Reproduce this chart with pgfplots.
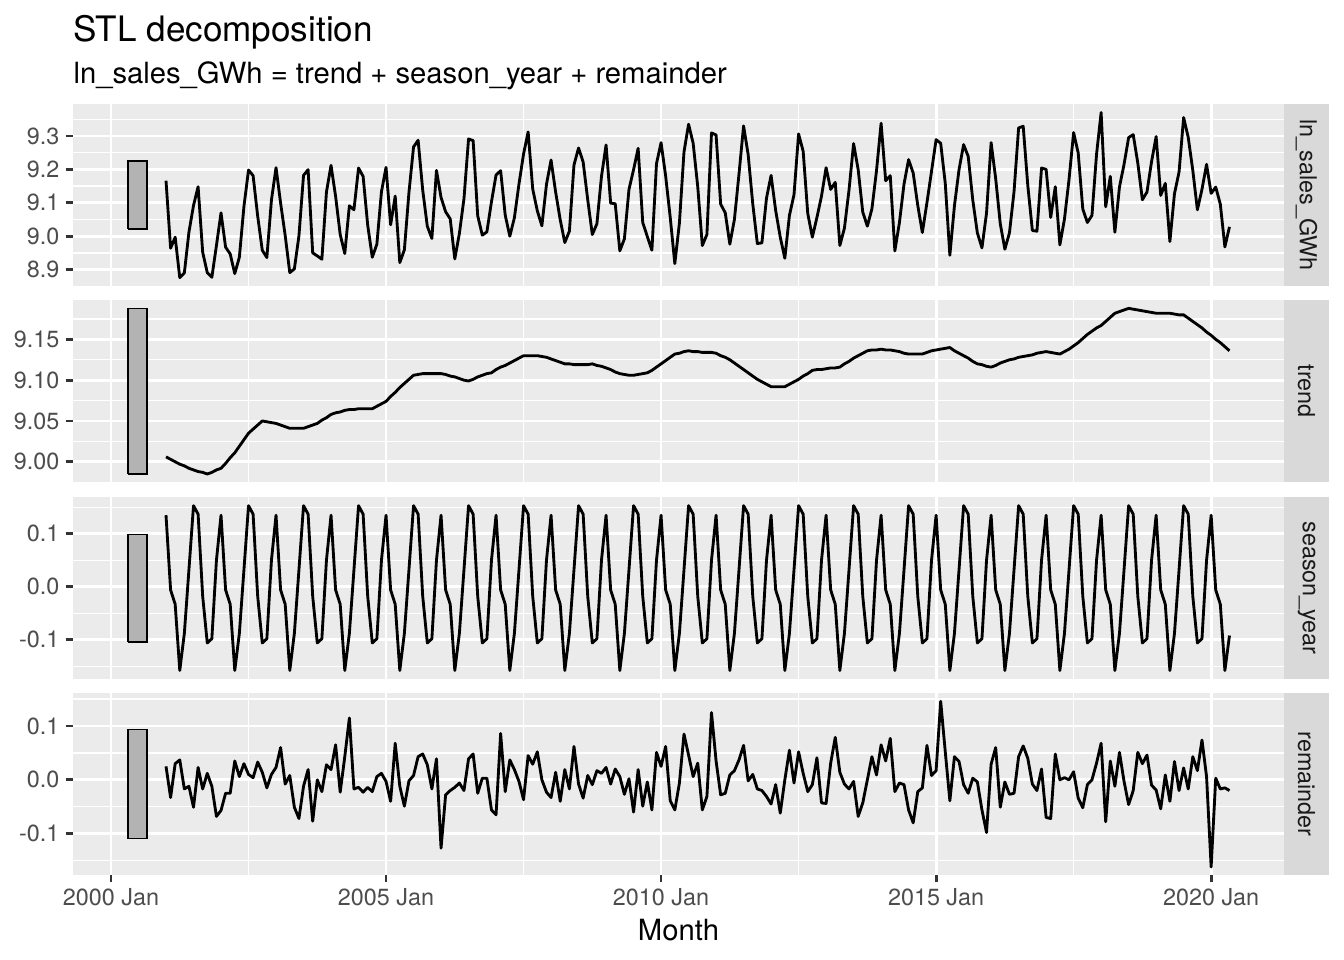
\documentclass[border=0pt]{standalone}
\usepackage{fontspec}
\setmainfont{TeX Gyre Heros}
\usepackage{pgfplots}
\usepackage{pgfplotstable}
\pgfplotsset{compat=1.18}
\definecolor{panelbg}{HTML}{EBEBEB}
\definecolor{stripbg}{HTML}{D9D9D9}
\definecolor{gray30}{HTML}{4D4D4D}
\definecolor{gray20}{HTML}{333333}
\definecolor{gray10}{HTML}{1A1A1A}
\definecolor{gray70}{HTML}{B3B3B3}

% m = months since 2000 Jan
\pgfplotstableread{
m y trend season rem
12 9.166 9.006 0.135 0.025
13 8.964 9.003 -0.006 -0.033
14 8.997 9.000 -0.033 0.030
15 8.876 8.997 -0.158 0.037
16 8.890 8.995 -0.088 -0.017
17 9.012 8.992 0.032 -0.012
18 9.092 8.990 0.153 -0.051
19 9.148 8.988 0.137 0.023
20 8.952 8.987 -0.018 -0.017
21 8.891 8.985 -0.106 0.012
22 8.877 8.987 -0.098 -0.012
23 8.972 8.990 0.050 -0.068
24 9.070 8.992 0.135 -0.057
25 8.967 8.998 -0.006 -0.025
26 8.947 9.005 -0.033 -0.025
27 8.888 9.011 -0.158 0.035
28 8.937 9.019 -0.088 0.006
29 9.089 9.027 0.032 0.030
30 9.198 9.035 0.153 0.010
31 9.181 9.040 0.137 0.004
32 9.060 9.045 -0.018 0.033
33 8.958 9.050 -0.106 0.014
34 8.936 9.049 -0.098 -0.015
35 9.108 9.048 0.050 0.010
36 9.205 9.047 0.135 0.023
37 9.099 9.045 -0.006 0.060
38 9.002 9.043 -0.033 -0.008
39 8.891 9.041 -0.158 0.008
40 8.902 9.041 -0.088 -0.051
41 9.001 9.041 0.032 -0.072
42 9.182 9.041 0.153 -0.012
43 9.199 9.043 0.137 0.019
44 8.950 9.045 -0.018 -0.077
45 8.941 9.047 -0.106 0.000
46 8.931 9.051 -0.098 -0.022
47 9.132 9.054 0.050 0.028
48 9.212 9.058 0.135 0.019
49 9.119 9.060 -0.006 0.065
50 9.005 9.061 -0.033 -0.023
51 8.948 9.063 -0.158 0.043
52 9.091 9.064 -0.088 0.115
53 9.079 9.064 0.032 -0.017
54 9.204 9.065 0.153 -0.014
55 9.179 9.065 0.137 -0.023
56 9.033 9.065 -0.018 -0.014
57 8.937 9.065 -0.106 -0.022
58 8.976 9.068 -0.098 0.006
59 9.133 9.071 0.050 0.012
60 9.206 9.074 0.135 -0.003
61 9.034 9.080 -0.006 -0.040
62 9.120 9.085 -0.033 0.068
63 8.921 9.091 -0.158 -0.012
64 8.959 9.096 -0.088 -0.049
65 9.131 9.101 0.032 -0.002
66 9.267 9.106 0.153 0.008
67 9.287 9.107 0.137 0.043
68 9.138 9.108 -0.018 0.048
69 9.030 9.108 -0.106 0.028
70 8.993 9.108 -0.098 -0.017
71 9.197 9.108 0.050 0.039
72 9.116 9.108 0.135 -0.127
73 9.073 9.107 -0.006 -0.028
74 9.052 9.105 -0.033 -0.020
75 8.932 9.104 -0.158 -0.014
76 9.008 9.102 -0.088 -0.006
77 9.112 9.100 0.032 -0.020
78 9.291 9.099 0.153 0.039
79 9.286 9.101 0.137 0.048
80 9.061 9.104 -0.018 -0.025
81 9.003 9.106 -0.106 0.003
82 9.013 9.108 -0.098 0.003
83 9.103 9.109 0.050 -0.056
84 9.183 9.113 0.135 -0.065
85 9.196 9.116 -0.006 0.086
86 9.063 9.118 -0.033 -0.022
87 9.000 9.121 -0.158 0.037
88 9.055 9.124 -0.088 0.019
89 9.156 9.127 0.032 -0.003
90 9.246 9.130 0.153 -0.037
91 9.312 9.130 0.137 0.045
92 9.141 9.130 -0.018 0.029
93 9.076 9.130 -0.106 0.052
94 9.031 9.129 -0.098 0.000
95 9.155 9.128 0.050 -0.023
96 9.228 9.126 0.135 -0.033
97 9.132 9.124 -0.006 0.014
98 9.049 9.122 -0.033 -0.040
99 8.981 9.120 -0.158 0.019
100 9.015 9.120 -0.088 -0.017
101 9.213 9.119 0.032 0.062
102 9.264 9.119 0.153 -0.008
103 9.222 9.119 0.137 -0.034
104 9.109 9.119 -0.018 0.008
105 9.005 9.120 -0.106 -0.009
106 9.037 9.118 -0.098 0.017
107 9.179 9.117 0.050 0.012
108 9.273 9.115 0.135 0.023
109 9.099 9.113 -0.006 -0.008
110 9.097 9.110 -0.033 0.020
111 8.956 9.108 -0.158 0.006
112 8.992 9.107 -0.088 -0.027
113 9.140 9.106 0.032 0.002
114 9.199 9.106 0.153 -0.060
115 9.263 9.107 0.137 0.019
116 9.041 9.108 -0.018 -0.049
117 8.999 9.109 -0.106 -0.004
118 8.958 9.112 -0.098 -0.056
119 9.217 9.116 0.050 0.051
120 9.280 9.120 0.135 0.025
121 9.180 9.124 -0.006 0.062
122 9.056 9.128 -0.033 -0.039
123 8.918 9.132 -0.158 -0.056
124 9.039 9.133 -0.088 -0.006
125 9.252 9.135 0.032 0.085
126 9.335 9.136 0.153 0.046
127 9.278 9.135 0.137 0.006
128 9.148 9.135 -0.018 0.031
129 8.972 9.134 -0.106 -0.056
130 9.005 9.134 -0.098 -0.031
131 9.309 9.134 0.050 0.125
132 9.303 9.133 0.135 0.035
133 9.096 9.130 -0.006 -0.028
134 9.070 9.128 -0.033 -0.025
135 8.976 9.125 -0.158 0.009
136 9.050 9.121 -0.088 0.017
137 9.186 9.117 0.032 0.037
138 9.330 9.113 0.153 0.064
139 9.244 9.109 0.137 -0.002
140 9.097 9.105 -0.018 0.010
141 8.978 9.101 -0.106 -0.017
142 8.980 9.098 -0.098 -0.020
143 9.114 9.095 0.050 -0.031
144 9.182 9.092 0.135 -0.045
145 9.077 9.092 -0.006 -0.009
146 8.997 9.092 -0.033 -0.062
147 8.934 9.092 -0.158 0.000
148 9.062 9.095 -0.088 0.055
149 9.124 9.098 0.032 -0.006
150 9.306 9.101 0.153 0.052
151 9.254 9.105 0.137 0.012
152 9.068 9.108 -0.018 -0.022
153 8.997 9.112 -0.106 -0.009
154 9.056 9.113 -0.098 0.041
155 9.120 9.113 0.050 -0.043
156 9.205 9.114 0.135 -0.044
157 9.140 9.115 -0.006 0.031
158 9.161 9.115 -0.033 0.079
159 8.972 9.116 -0.158 0.014
160 9.024 9.120 -0.088 -0.008
161 9.138 9.123 0.032 -0.017
162 9.277 9.127 0.153 -0.003
163 9.199 9.130 0.137 -0.068
164 9.072 9.133 -0.018 -0.043
165 9.030 9.136 -0.106 0.000
166 9.082 9.137 -0.098 0.043
167 9.196 9.137 0.050 0.009
168 9.338 9.138 0.135 0.065
169 9.166 9.137 -0.006 0.035
170 9.181 9.137 -0.033 0.077
171 8.956 9.136 -0.158 -0.022
172 9.041 9.135 -0.088 -0.006
173 9.156 9.133 0.032 -0.009
174 9.229 9.132 0.153 -0.056
175 9.189 9.132 0.137 -0.080
176 9.092 9.132 -0.018 -0.022
177 9.011 9.132 -0.106 -0.015
178 9.100 9.134 -0.098 0.064
179 9.194 9.136 0.050 0.008
180 9.289 9.137 0.135 0.017
181 9.278 9.138 -0.006 0.146
182 9.158 9.139 -0.033 0.052
183 8.943 9.140 -0.158 -0.039
184 9.091 9.136 -0.088 0.043
185 9.199 9.133 0.032 0.034
186 9.274 9.130 0.153 -0.009
187 9.239 9.127 0.137 -0.025
188 9.108 9.123 -0.018 0.003
189 9.010 9.120 -0.106 -0.004
190 8.965 9.119 -0.098 -0.056
191 9.069 9.117 0.050 -0.098
192 9.280 9.116 0.135 0.029
193 9.172 9.118 -0.006 0.060
194 9.037 9.121 -0.033 -0.051
195 8.961 9.123 -0.158 -0.004
196 9.010 9.125 -0.088 -0.027
197 9.133 9.126 0.032 -0.025
198 9.324 9.128 0.153 0.043
199 9.329 9.129 0.137 0.063
200 9.152 9.130 -0.018 0.040
201 9.017 9.131 -0.106 -0.008
202 9.015 9.133 -0.098 -0.020
203 9.204 9.134 0.050 0.020
204 9.200 9.135 0.135 -0.070
205 9.056 9.134 -0.006 -0.072
206 9.148 9.133 -0.033 0.048
207 8.974 9.132 -0.158 0.000
208 9.051 9.135 -0.088 0.004
209 9.170 9.138 0.032 0.000
210 9.310 9.142 0.153 0.015
211 9.249 9.146 0.137 -0.034
212 9.081 9.151 -0.018 -0.052
213 9.041 9.156 -0.106 -0.009
214 9.062 9.160 -0.098 0.000
215 9.245 9.164 0.050 0.031
216 9.370 9.167 0.135 0.068
217 9.088 9.172 -0.006 -0.078
218 9.179 9.177 -0.033 0.035
219 9.012 9.182 -0.158 -0.012
220 9.147 9.184 -0.088 0.051
221 9.215 9.186 0.032 -0.003
222 9.295 9.188 0.153 -0.046
223 9.304 9.187 0.137 -0.020
224 9.219 9.186 -0.018 0.051
225 9.109 9.185 -0.106 0.030
226 9.132 9.184 -0.098 0.046
227 9.223 9.183 0.050 -0.010
228 9.298 9.182 0.135 -0.019
229 9.122 9.182 -0.006 -0.054
230 9.158 9.182 -0.033 0.009
231 8.984 9.182 -0.158 -0.040
232 9.127 9.181 -0.088 0.034
233 9.192 9.180 0.032 -0.020
234 9.355 9.180 0.153 0.022
235 9.296 9.176 0.137 -0.017
236 9.197 9.172 -0.018 0.043
237 9.079 9.168 -0.106 0.017
238 9.140 9.164 -0.098 0.074
239 9.215 9.159 0.050 0.006
240 9.128 9.155 0.135 -0.162
241 9.147 9.150 -0.006 0.003
242 9.096 9.146 -0.033 -0.017
243 8.968 9.141 -0.158 -0.015
244 9.028 9.136 -0.092 -0.020
}\stl

\pgfplotsset{
  stlpanel/.style={
    scale only axis, width=455.83pt, height=68.43pt,
    anchor=south west,
    xmin=-8.29, xmax=255.9,
    axis background/.style={fill=panelbg},
    axis line style={draw=none},
    xmajorgrids, ymajorgrids, xminorgrids, yminorgrids,
    major grid style={white, line width=1.07pt},
    minor grid style={white, line width=0.53pt},
    xtick={0,60,120,180,240},
    minor xtick={30,90,150,210},
    tick align=outside,
    major tick length=2.75pt,
    minor tick length=0pt,
    xtick pos=left, ytick pos=left,
    tick style={gray20, line width=1.07pt},
    yticklabel style={font=\fontsize{8.8}{10}\selectfont, text=gray30, inner sep=0pt, xshift=-2.2pt},
    xticklabel style={font=\fontsize{8.8}{10}\selectfont, text=gray30, inner sep=0pt, yshift=-2.2pt},
    clip=false,
  },
  noxticks/.style={xticklabels={}, xtick style={draw=none}},
  dataline/.style={black, line width=1.07pt, line join=round},
  scalebar/.style={draw=black, fill=gray70, line width=0.55pt},
}
\tikzset{striplabel/.style={rotate=-90, font=\fontsize{8.8}{10}\selectfont, text=gray10}}

\begin{document}
\begin{tikzpicture}
\useasboundingbox (0,0) rectangle (505.89pt,361.35pt);

% Panel 1
\begin{axis}[stlpanel, noxticks, at={(27.48pt,253.70pt)},
  ymin=8.851, ymax=9.395,
  ytick={8.9,9.0,9.1,9.2,9.3}, yticklabels={8.9,9.0,9.1,9.2,9.3},
  minor ytick={8.85,8.95,9.05,9.15,9.25,9.35}]
  \addplot[scalebar] coordinates {(3.7,9.0215) (7.9,9.0215) (7.9,9.2245) (3.7,9.2245) (3.7,9.0215)};
  \addplot[dataline] table[x=m, y=y] {\stl};
  \fill[stripbg] (rel axis cs:1,0) rectangle (rel axis cs:1.03716,1);
  \node[striplabel] at (rel axis cs:1.01858,0.5) {ln\_sales\_GWh};
\end{axis}

% Panel 2
\begin{axis}[stlpanel, noxticks, at={(27.48pt,179.92pt)},
  ymin=8.9752, ymax=9.198,
  ytick={9.00,9.05,9.10,9.15}, yticklabels={9.00,9.05,9.10,9.15},
  minor ytick={8.975,9.025,9.075,9.125,9.175}]
  \addplot[scalebar] coordinates {(3.7,8.985) (7.9,8.985) (7.9,9.188) (3.7,9.188) (3.7,8.985)};
  \addplot[dataline] table[x=m, y=trend] {\stl};
  \fill[stripbg] (rel axis cs:1,0) rectangle (rel axis cs:1.03716,1);
  \node[striplabel] at (rel axis cs:1.01858,0.5) {trend};
\end{axis}

% Panel 3
\begin{axis}[stlpanel, noxticks, at={(27.48pt,105.77pt)},
  ymin=-0.174, ymax=0.169,
  ytick={-0.1,0,0.1}, yticklabels={-0.1,0.0,0.1},
  minor ytick={-0.15,-0.05,0.05,0.15}]
  \addplot[scalebar] coordinates {(3.7,-0.104) (7.9,-0.104) (7.9,0.099) (3.7,0.099) (3.7,-0.104)};
  \addplot[dataline] table[x=m, y=season] {\stl};
  \fill[stripbg] (rel axis cs:1,0) rectangle (rel axis cs:1.03716,1);
  \node[striplabel] at (rel axis cs:1.01858,0.5) {season\_year};
\end{axis}

% Panel 4
\begin{axis}[stlpanel, at={(27.48pt,31.99pt)},
  ymin=-0.177, ymax=0.161,
  xticklabels={2000 Jan,2005 Jan,2010 Jan,2015 Jan,2020 Jan},
  ytick={-0.1,0,0.1}, yticklabels={-0.1,0.0,0.1},
  minor ytick={-0.15,-0.05,0.05,0.15}]
  \addplot[scalebar] coordinates {(3.7,-0.1095) (7.9,-0.1095) (7.9,0.0935) (3.7,0.0935) (3.7,-0.1095)};
  \addplot[dataline] table[x=m, y=rem] {\stl};
  \fill[stripbg] (rel axis cs:1,0) rectangle (rel axis cs:1.03716,1);
  \node[striplabel] at (rel axis cs:1.01858,0.5) {remainder};
\end{axis}

% Titles and axis title
\node[anchor=base west, inner sep=0pt, font=\fontsize{13.2}{15}\selectfont] at (27.48pt,345.9pt) {STL decomposition};
\node[anchor=base west, inner sep=0pt, font=\fontsize{11}{13}\selectfont, text=black] at (27.48pt,330.1pt) {ln\_sales\_GWh = trend + season\_year + remainder};
\node[anchor=base, inner sep=0pt, font=\fontsize{11}{13}\selectfont] at (255.39pt,7.34pt) {Month};
\end{tikzpicture}
\end{document}
